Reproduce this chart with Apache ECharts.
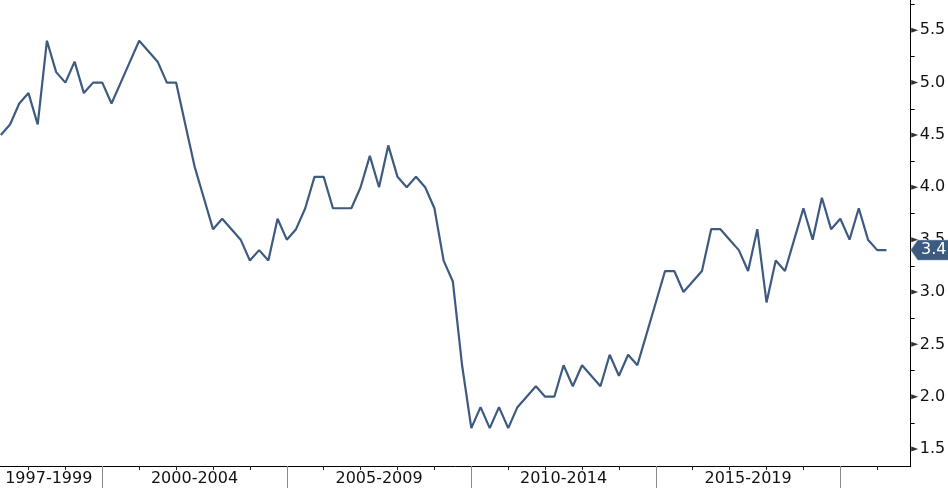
<!DOCTYPE html>
<html>
<head>
<meta charset="utf-8">
<script src="https://cdn.jsdelivr.net/npm/echarts@6/dist/echarts.min.js"></script>
<style>
html,body{margin:0;padding:0;background:#fff;}
#chart{width:948px;height:488px;}
</style>
</head>
<body>
<div id="chart"></div>
<script>
// Quarterly series, first point = 1997 Q2, last point = 2021 Q2
const firstYear = 1997;
const firstQuarter = 2;
const values = [
  4.5, 4.6, 4.8, 4.9, 4.6, 5.4, 5.1, 5.0, 5.2, 4.9,
  5.0, 5.0, 4.8, 5.0, 5.2, 5.4, 5.3, 5.2, 5.0, 5.0,
  4.6, 4.2, 3.9, 3.6, 3.7, 3.6, 3.5, 3.3, 3.4, 3.3,
  3.7, 3.5, 3.6, 3.8, 4.1, 4.1, 3.8, 3.8, 3.8, 4.0,
  4.3, 4.0, 4.4, 4.1, 4.0, 4.1, 4.0, 3.8, 3.3, 3.1,
  2.3, 1.7, 1.9, 1.7, 1.9, 1.7, 1.9, 2.0, 2.1, 2.0,
  2.0, 2.3, 2.1, 2.3, 2.2, 2.1, 2.4, 2.2, 2.4, 2.3,
  2.6, 2.9, 3.2, 3.2, 3.0, 3.1, 3.2, 3.6, 3.6, 3.5,
  3.4, 3.2, 3.6, 2.9, 3.3, 3.2, 3.5, 3.8, 3.5, 3.9,
  3.6, 3.7, 3.5, 3.8, 3.5, 3.4, 3.4
];
const periodLabels = ['1997-1999', '2000-2004', '2005-2009', '2010-2014', '2015-2019'];
const periodLabelAt = [1998.55, 2002.5, 2007.5, 2012.5, 2017.5];
const yearTicks = [1998, 1999, 2001, 2002, 2003, 2004, 2006, 2007, 2008, 2009, 2011, 2012, 2013, 2014, 2016, 2017, 2018, 2019, 2021];
const periodStarts = [2000, 2005, 2010, 2015, 2020];
const yLabelValues = [1.5, 2.0, 2.5, 3.0, 3.5, 4.0, 4.5, 5.0, 5.5];
const yMinorValues = [1.75, 2.25, 2.75, 3.25, 3.75, 4.25, 4.75, 5.25, 5.75];

const X_MIN = 1997.228, X_MAX = 2021.907;
const Y_MIN = 1.338, Y_MAX = 5.789;

const seriesData = values.map((v, i) => [firstYear + (firstQuarter - 1) / 4 + i / 4, v]);
const lastValue = values[values.length - 1];

const FONT = 'DejaVu Sans';
const LINE = '#3D5A80';

const chart = echarts.init(document.getElementById('chart'), null, {renderer: 'canvas'});
chart.setOption({
  animation: false,
  backgroundColor: '#ffffff',
  grid: {left: 0, right: 37.3, top: 0, bottom: 22, containLabel: false, outerBoundsMode: 'none'},
  xAxis: [
    {
      type: 'value', position: 'bottom', min: X_MIN, max: X_MAX,
      splitLine: {show: false},
      axisLine: {show: true, lineStyle: {color: '#000', width: 1}},
      axisTick: {show: true, customValues: yearTicks, length: 4, inside: false, lineStyle: {color: '#222', width: 1}},
      axisLabel: {
        show: true, customValues: periodLabelAt, margin: 5,
        fontFamily: FONT, fontSize: 16, color: '#111',
        formatter: (v, idx) => {
          const k = periodLabelAt.indexOf(v);
          return periodLabels[k >= 0 ? k : idx];
        }
      }
    },
    {
      type: 'value', position: 'bottom', min: X_MIN, max: X_MAX,
      splitLine: {show: false},
      axisLine: {show: false},
      axisTick: {show: true, customValues: periodStarts, length: 22, inside: false, lineStyle: {color: '#8c8c8c', width: 1}},
      axisLabel: {show: false}
    }
  ],
  yAxis: {
    type: 'value', position: 'right', min: Y_MIN, max: Y_MAX,
    splitLine: {show: false},
    axisLine: {show: true, lineStyle: {color: '#000', width: 1}},
    axisTick: {show: true, customValues: yMinorValues, length: 4, inside: false, lineStyle: {color: '#000', width: 1}},
    axisLabel: {
      show: true, customValues: yLabelValues, margin: 9,
      fontFamily: FONT, fontSize: 16, color: '#111',
      formatter: v => v.toFixed(1)
    }
  },
  series: [
    {
      type: 'line',
      xAxisIndex: 0,
      data: seriesData,
      showSymbol: false,
      symbol: 'none',
      lineStyle: {color: LINE, width: 2.2},
      itemStyle: {color: LINE},
      z: 3,
      markPoint: {
        silent: true,
        symbol: 'path://M0,10 L7,0 L40,0 L40,20 L7,20 Z',
        symbolSize: [40, 20],
        symbolKeepAspect: false,
        symbolOffset: [20, 0],
        itemStyle: {color: LINE, borderColor: '#9fb0c8', borderWidth: 0.5},
        label: {
          show: true, position: 'inside', offset: [3, 0],
          fontFamily: FONT, fontSize: 16, color: '#ffffff',
          formatter: p => p.value.toFixed(1)
        },
        data: [{coord: [X_MAX, lastValue], value: lastValue}]
      }
    },
    {
      // small right-pointing tick markers of the labelled y-axis values
      type: 'scatter',
      xAxisIndex: 0,
      data: yLabelValues.map(v => [X_MAX, v]),
      symbol: 'path://M0,0 L8,2.5 L0,5 Z',
      symbolSize: [7, 5],
      symbolKeepAspect: false,
      symbolOffset: [4, 0],
      itemStyle: {color: '#000'},
      clip: false,
      silent: true,
      z: 1
    }
  ]
});
</script>
</body>
</html>
